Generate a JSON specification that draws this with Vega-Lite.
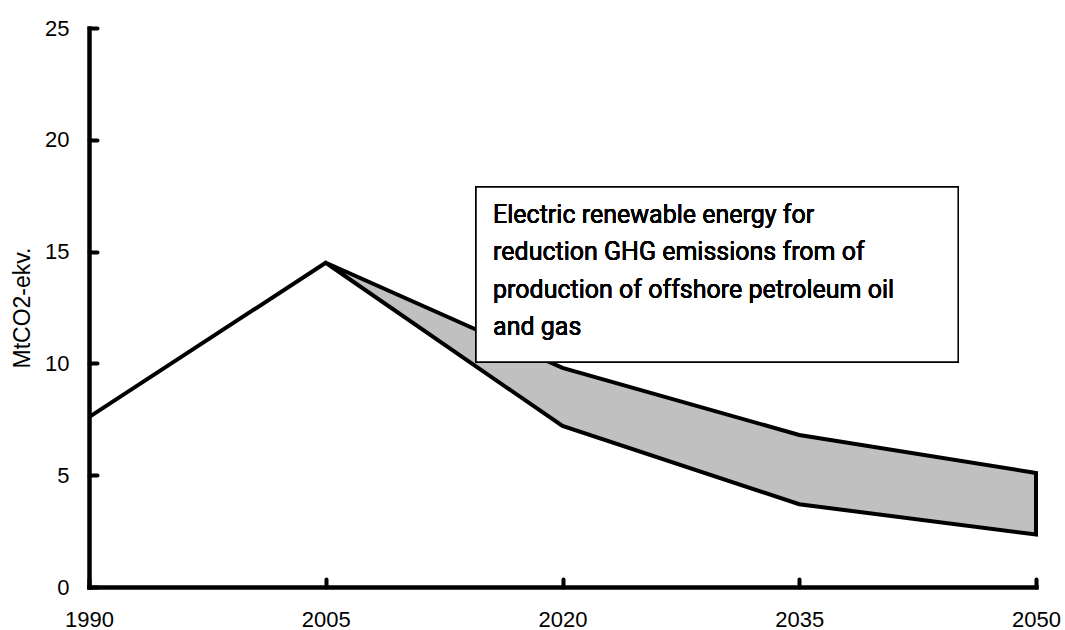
{
  "$schema": "https://vega.github.io/schema/vega-lite/v6.json",
  "width": 947,
  "height": 559,
  "autosize": "none",
  "padding": {"left": 89, "top": 28, "right": 29, "bottom": 43},
  "background": "white",
  "config": {"view": {"stroke": null}},
  "data": {
    "values": [
      {"year": 1990, "upper": 7.6, "lower": 7.6},
      {"year": 2005, "upper": 14.5, "lower": 14.5},
      {"year": 2020, "upper": 9.8, "lower": 7.2},
      {"year": 2035, "upper": 6.8, "lower": 3.7},
      {"year": 2050, "upper": 5.1, "lower": 2.35}
    ]
  },
  "encoding": {
    "x": {
      "field": "year", "type": "quantitative",
      "scale": {"domain": [1990, 2050], "nice": false, "zero": false},
      "axis": {
        "title": null, "values": [1990, 2005, 2020, 2035, 2050], "format": "d",
        "grid": false, "domainColor": "black", "domainWidth": 4.5, "domainCap": "square",
        "tickColor": "black", "tickWidth": 4, "tickSize": -8, "tickCap": "round",
        "labelFont": "Liberation Sans", "labelFontSize": 22, "labelColor": "black",
        "labelPadding": 30, "labelFlush": false
      }
    },
    "y": {
      "field": "upper", "type": "quantitative",
      "scale": {"domain": [0, 25], "nice": false},
      "axis": {
        "title": "MtCO2-ekv.", "values": [0, 5, 10, 15, 20, 25],
        "grid": false, "domainColor": "black", "domainWidth": 4.5, "domainCap": "square",
        "tickColor": "black", "tickWidth": 4, "tickSize": -8, "tickCap": "round",
        "labelFont": "Liberation Sans", "labelFontSize": 22, "labelColor": "black",
        "labelPadding": 28,
        "titleFont": "Liberation Sans", "titleFontSize": 23, "titleFontWeight": "normal",
        "titleColor": "black", "titlePadding": 10
      }
    }
  },
  "layer": [
    {
      "mark": {"type": "area", "fill": "#c0c0c0", "stroke": "black", "strokeWidth": 4, "strokeJoin": "miter"},
      "encoding": {"y2": {"field": "lower"}}
    },
    {
      "mark": {"type": "rect", "fill": "white", "stroke": "black", "strokeWidth": 1.5},
      "encoding": {
        "x": {"datum": 2014.52},
        "x2": {"datum": 2045.07},
        "y": {"datum": 17.89},
        "y2": {"datum": 10.06}
      }
    },
    {
      "mark": {
        "type": "text", "align": "left", "baseline": "alphabetic",
        "font": "Roboto", "fontSize": 25, "lineHeight": 37.5, "color": "black",
        "text": ["Electric renewable energy for", "reduction GHG emissions from of", "production of offshore petroleum oil", "and gas"]
      },
      "encoding": {
        "x": {"datum": 2015.6},
        "y": {"datum": 16.28}
      }
    }
  ]
}
